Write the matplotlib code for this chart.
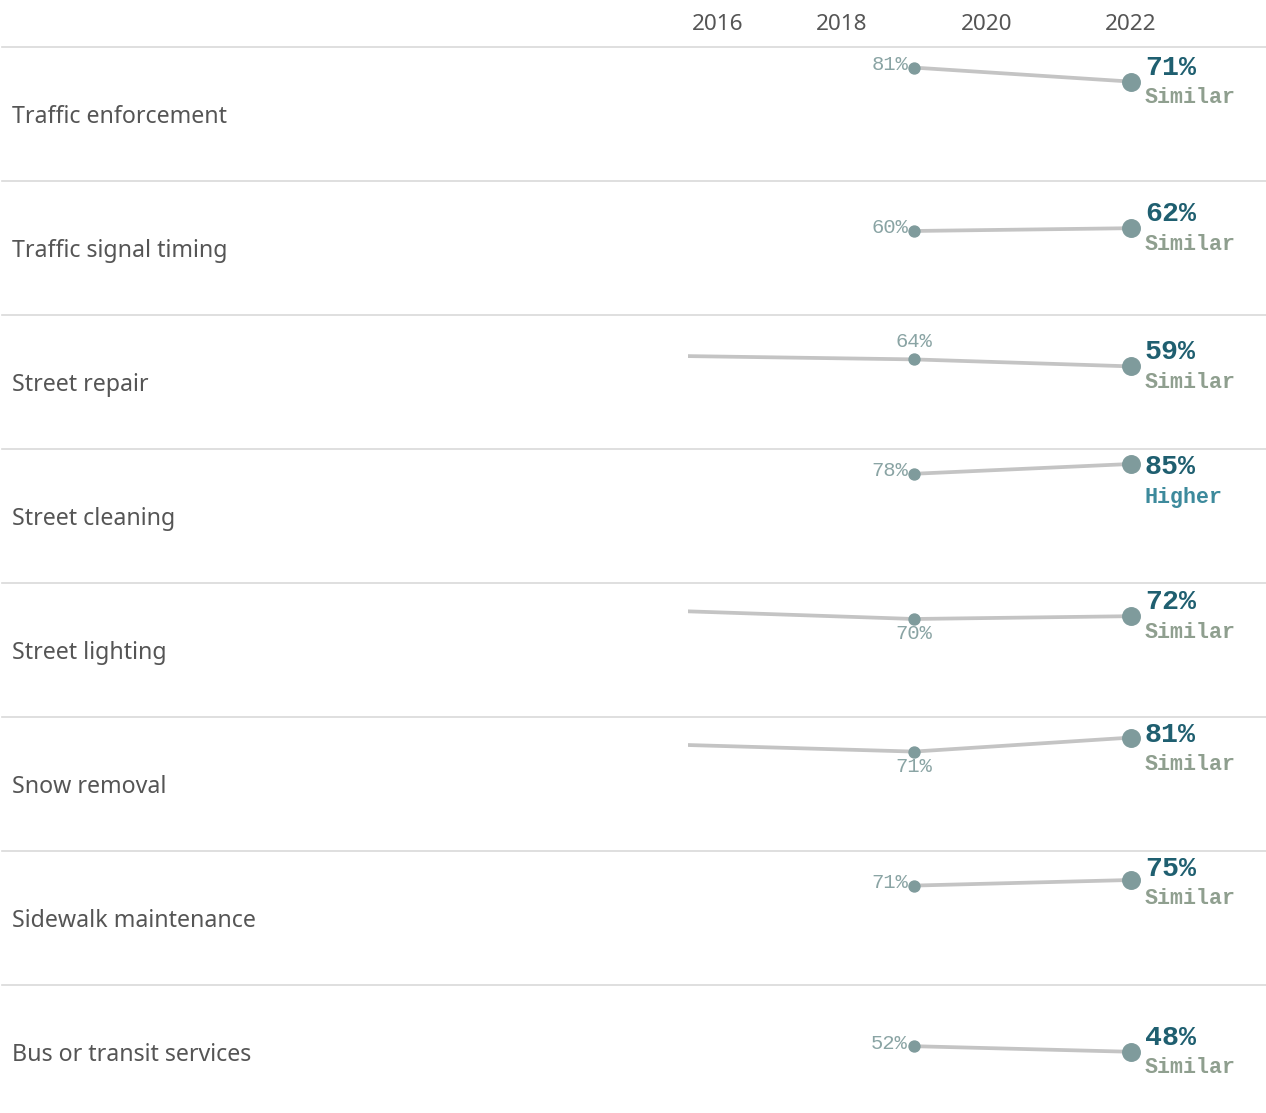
import matplotlib.pyplot as plt
import matplotlib.transforms as mtransforms
import numpy as np

# survey data: share satisfied, by service
categories = ['Traffic enforcement', 'Traffic signal timing', 'Street repair',
              'Street cleaning', 'Street lighting', 'Snow removal',
              'Sidewalk maintenance', 'Bus or transit services']
years = [2015, 2019, 2022]
vals_2015 = [np.nan, np.nan, 67, np.nan, 77, 77, np.nan, np.nan]
vals_2019 = [81, 60, 64, 78, 70, 71, 71, 52]
vals_2022 = [71, 62, 59, 85, 72, 81, 75, 48]
status = ['Similar', 'Similar', 'Similar', 'Higher', 'Similar', 'Similar', 'Similar', 'Similar']
tick_years = [2016, 2018, 2020, 2022]

# where the 2019 label sits relative to its dot
label_pos = ['left', 'left', 'above', 'left', 'below', 'below', 'left', 'left']

W, H = 1266, 1113
DPI = 100
ROW_TOP = 47
ROW_H = 134
PANE_L = 688
XLIM = (2015.875, 2023.87)
YLIM = (0, 95.7)

TXT = '#555555'
GRID = '#d9d9d9'
LINE = '#c4c4c4'
DOT = '#7f9b9c'
EARLY_TXT = '#8aa4a4'
LATE_TXT = '#1f5f70'
STATUS_COL = {'Similar': '#8f9f8f', 'Higher': '#3d8a9c'}

fig = plt.figure(figsize=(W / DPI, H / DPI), dpi=DPI)
px = 72 / DPI  # points per pixel

# separators
for i in range(len(categories)):
    y = 1 - (ROW_TOP + ROW_H * i) / H
    fig.add_artist(plt.Line2D([2 / W, 1], [y, y], transform=fig.transFigure,
                              color=GRID, lw=1.2))

for i, cat in enumerate(categories):
    top = ROW_TOP + ROW_H * i
    ax = fig.add_axes([PANE_L / W, 1 - (top + ROW_H) / H, (W - PANE_L) / W, ROW_H / H])
    ax.set_xlim(*XLIM)
    ax.set_ylim(*YLIM)
    if i > 0:
        ax.axis('off')
    for s in ax.spines.values():
        s.set_visible(False)
    ax.patch.set_alpha(0)

    fig.text(12 / W, 1 - (top + 70) / H, cat, fontsize=16.7, color=TXT,
             family='Noto Sans', va='center', ha='left')

    yv = [vals_2015[i], vals_2019[i], vals_2022[i]]
    ax.plot(years, yv, color=LINE, lw=2.7, zorder=1, solid_capstyle='butt')
    ax.plot(years[1], vals_2019[i], 'o', ms=7.9, color=DOT, zorder=3)
    ax.plot(years[2], vals_2022[i], 'o', ms=12.6, color=DOT, zorder=3)

    # 2019 label
    pos = label_pos[i]
    if pos == 'left':
        off, ha, va = (-6, 3), 'right', 'center'
    elif pos == 'above':
        off, ha, va = (0, 18), 'center', 'center'
    else:
        off, ha, va = (0, -15), 'center', 'center'
    ax.annotate(f'{vals_2019[i]}%', (years[1], vals_2019[i]),
                xytext=(off[0] * px, off[1] * px), textcoords='offset points',
                ha=ha, va=va, fontsize=14.8, color=EARLY_TXT, family='Liberation Mono')

    # 2022 value + status, kept inside the row
    dot_off = (YLIM[1] - vals_2022[i]) / (YLIM[1] - YLIM[0]) * ROW_H
    dy = min(14, dot_off - 18)
    ax.annotate(f'{vals_2022[i]}%', (years[2], vals_2022[i]),
                xytext=(14 * px, dy * px), textcoords='offset points',
                ha='left', va='center', fontsize=20.3, fontweight='bold',
                color=LATE_TXT, family='Liberation Mono')
    ax.annotate(status[i], (years[2], vals_2022[i]),
                xytext=(14 * px, (dy - 30) * px), textcoords='offset points',
                ha='left', va='center', fontsize=15.6, fontweight='bold',
                color=STATUS_COL[status[i]], family='Liberation Mono')

    if i == 0:
        ax.set_yticks([])
        ax.xaxis.tick_top()
        ax.set_xticks(tick_years)
        ax.set_xticklabels([str(y) for y in tick_years], fontsize=16.2,
                           color=TXT, family='Noto Sans')
        ax.tick_params(axis='x', length=0, pad=12 * px)
        first = ax.get_xticklabels()[0]
        first.set_ha('left')
        first.set_transform(first.get_transform() +
                            mtransforms.ScaledTranslation(-5 / DPI, 0, fig.dpi_scale_trans))

fig.savefig('out.png', dpi=DPI)
